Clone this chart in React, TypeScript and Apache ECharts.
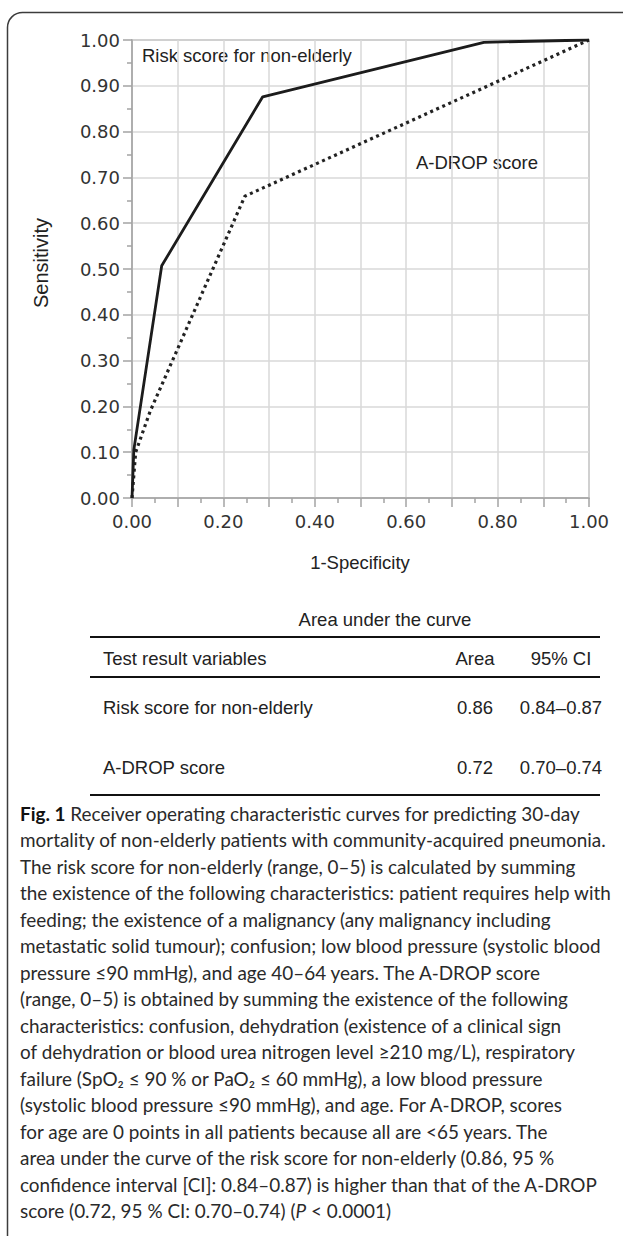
import React, { useEffect, useRef } from 'react';
import * as echarts from 'echarts';

// ROC curve points (1-Specificity, Sensitivity)
const riskFpr = [0, 0.004, 0.065, 0.286, 0.77, 1.0];
const riskTpr = [0, 0.105, 0.507, 0.876, 0.995, 1.0];
const adropFpr = [0, 0.008, 0.04, 0.247, 1.0];
const adropTpr = [0, 0.1, 0.19, 0.659, 1.0];

const seriesNames = ['Risk score for non-elderly', 'A-DROP score'];

const tableTitle = 'Area under the curve';
const tableHeader = ['Test result variables', 'Area', '95% CI'];
const tableRows = [
  ['Risk score for non-elderly', '0.86', '0.84–0.87'],
  ['A-DROP score', '0.72', '0.70–0.74'],
];

const captionLines = [
  '{b|Fig. 1} Receiver operating characteristic curves for predicting 30-day',
  'mortality of non-elderly patients with community-acquired pneumonia.',
  'The risk score for non-elderly (range, 0–5) is calculated by summing',
  'the existence of the following characteristics: patient requires help with',
  'feeding; the existence of a malignancy (any malignancy including',
  'metastatic solid tumour); confusion; low blood pressure (systolic blood',
  'pressure ≤90 mmHg), and age 40–64 years. The A-DROP score',
  '(range, 0–5) is obtained by summing the existence of the following',
  'characteristics: confusion, dehydration (existence of a clinical sign',
  'of dehydration or blood urea nitrogen level ≥210 mg/L), respiratory',
  'failure (SpO₂ ≤ 90 % or PaO₂ ≤ 60 mmHg), a low blood pressure',
  '(systolic blood pressure ≤90 mmHg), and age. For A-DROP, scores',
  'for age are 0 points in all patients because all are <65 years. The',
  'area under the curve of the risk score for non-elderly (0.86, 95 %',
  'confidence interval [CI]: 0.84–0.87) is higher than that of the A-DROP',
  'score (0.72, 95 % CI: 0.70–0.74) ({i|P} < 0.0001)',
];

const SANS = '"Liberation Sans", Arial, sans-serif';
const CAP = 'Lato, "Open Sans", sans-serif';

function captionFontSize(): number {
  try {
    const c = document.createElement('canvas').getContext('2d');
    if (!c) return 17.5;
    c.font = '100px Lato';
    const w = c.measureText(captionLines[1]).width;
    if (!w) return 17.5;
    return (100 * 588) / w;
  } catch (e) {
    return 17.5;
  }
}

export default function App() {
  const ref = useRef<HTMLDivElement>(null);
  useEffect(() => {
    if (!ref.current) return;
    const chart = echarts.init(ref.current, undefined, { renderer: 'svg' });
    const axisGray = '#a3a3a3';
    const capFs = captionFontSize();
    const capTop = 813;
    const capStep = 26.5;

    const graphics: any[] = [
      {
        type: 'rect',
        shape: { x: 7.5, y: 12.5, width: 700, height: 1300, r: 15 },
        style: { fill: 'none', stroke: '#3c3c3c', lineWidth: 1.5 },
        silent: true,
      },
      {
        type: 'text',
        x: 142, y: 55,
        style: { text: seriesNames[0], font: `18.5px ${SANS}`, fill: '#222', align: 'left', verticalAlign: 'middle' },
      },
      {
        type: 'text',
        x: 416, y: 162,
        style: { text: seriesNames[1], font: `18.5px ${SANS}`, fill: '#222', align: 'left', verticalAlign: 'middle' },
      },
      {
        type: 'text',
        x: 41, y: 263, rotation: Math.PI / 2,
        style: { text: 'Sensitivity', font: `20px ${SANS}`, fill: '#222', align: 'center', verticalAlign: 'middle' },
      },
      {
        type: 'text',
        x: 360, y: 562,
        style: { text: '1-Specificity', font: `18.5px ${SANS}`, fill: '#222', align: 'center', verticalAlign: 'middle' },
      },
      // table
      {
        type: 'text',
        x: 385, y: 619,
        style: { text: tableTitle, font: `18.5px ${SANS}`, fill: '#222', align: 'center', verticalAlign: 'middle' },
      },
      { type: 'line', shape: { x1: 90, y1: 637, x2: 600, y2: 637 }, style: { stroke: '#111', lineWidth: 2 } },
      { type: 'line', shape: { x1: 90, y1: 677, x2: 600, y2: 677 }, style: { stroke: '#111', lineWidth: 2 } },
      { type: 'line', shape: { x1: 90, y1: 795, x2: 600, y2: 795 }, style: { stroke: '#111', lineWidth: 2 } },
    ];

    const colX = [103, 475, 561];
    const colAlign = ['left', 'center', 'center'];
    tableHeader.forEach((t, i) => {
      graphics.push({
        type: 'text', x: colX[i], y: 658,
        style: { text: t, font: `18.5px ${SANS}`, fill: '#222', align: colAlign[i], verticalAlign: 'middle' },
      });
    });
    const rowY = [707, 767];
    tableRows.forEach((row, r) => {
      row.forEach((t, i) => {
        graphics.push({
          type: 'text', x: colX[i], y: rowY[r],
          style: { text: t, font: `18.5px ${SANS}`, fill: '#222', align: colAlign[i], verticalAlign: 'middle' },
        });
      });
    });

    captionLines.forEach((t, i) => {
      graphics.push({
        type: 'text', x: 20, y: capTop + i * capStep,
        style: {
          text: t,
          fontFamily: CAP,
          fontSize: capFs,
          fill: '#2a2a2a',
          align: 'left',
          verticalAlign: 'middle',
          rich: {
            b: { fontFamily: CAP, fontSize: capFs, fontWeight: 'bold', fill: '#111' },
            i: { fontFamily: CAP, fontSize: capFs, fontStyle: 'italic', fill: '#2a2a2a' },
          },
        },
      });
    });

    const tickLabelStyle = { fontFamily: '"DejaVu Sans", Verdana, sans-serif', fontSize: 18, color: '#333' };

    chart.setOption({
      animation: false,
      backgroundColor: '#fff',
      grid: {
        left: 132, top: 40, width: 457, height: 458,
        show: true, borderColor: axisGray, borderWidth: 1.5, backgroundColor: 'transparent',
      },
      xAxis: {
        type: 'value', min: 0, max: 1, interval: 0.1,
        axisLine: { show: true, lineStyle: { color: axisGray, width: 1.5 } },
        axisTick: { show: true, length: 9, lineStyle: { color: axisGray, width: 1.5 } },
        minorTick: { show: true, splitNumber: 2, length: 5, lineStyle: { color: axisGray, width: 1.5 } },
        splitLine: { show: true, lineStyle: { color: '#d9d9d9', width: 1.5 } },
        axisLabel: {
          ...tickLabelStyle,
          margin: 14,
          formatter: (v: number) => (Math.round(v * 10) % 2 === 0 ? v.toFixed(2) : ''),
        },
      },
      yAxis: {
        type: 'value', min: 0, max: 1, interval: 0.1,
        axisLine: { show: true, lineStyle: { color: axisGray, width: 1.5 } },
        axisTick: { show: true, length: 9, lineStyle: { color: axisGray, width: 1.5 } },
        minorTick: { show: true, splitNumber: 2, length: 5, lineStyle: { color: axisGray, width: 1.5 } },
        splitLine: { show: true, lineStyle: { color: '#d9d9d9', width: 1.5 } },
        axisLabel: {
          ...tickLabelStyle,
          margin: 12,
          formatter: (v: number) => v.toFixed(2),
        },
      },
      series: [
        {
          name: seriesNames[0],
          type: 'line',
          data: riskFpr.map((x, i) => [x, riskTpr[i]]),
          symbol: 'none',
          lineStyle: { color: '#1c1c1c', width: 2.8 },
          z: 3,
        },
        {
          name: seriesNames[1],
          type: 'line',
          data: adropFpr.map((x, i) => [x, adropTpr[i]]),
          symbol: 'none',
          lineStyle: { color: '#222', width: 3.2, type: [3, 3.6] },
          z: 2,
        },
      ],
      graphic: graphics,
    });
    return () => chart.dispose();
  }, []);
  return (
    <div
      ref={ref}
      style={{ position: 'absolute', left: 0, top: 0, width: 623, height: 1236, background: '#fff' }}
    />
  );
}
